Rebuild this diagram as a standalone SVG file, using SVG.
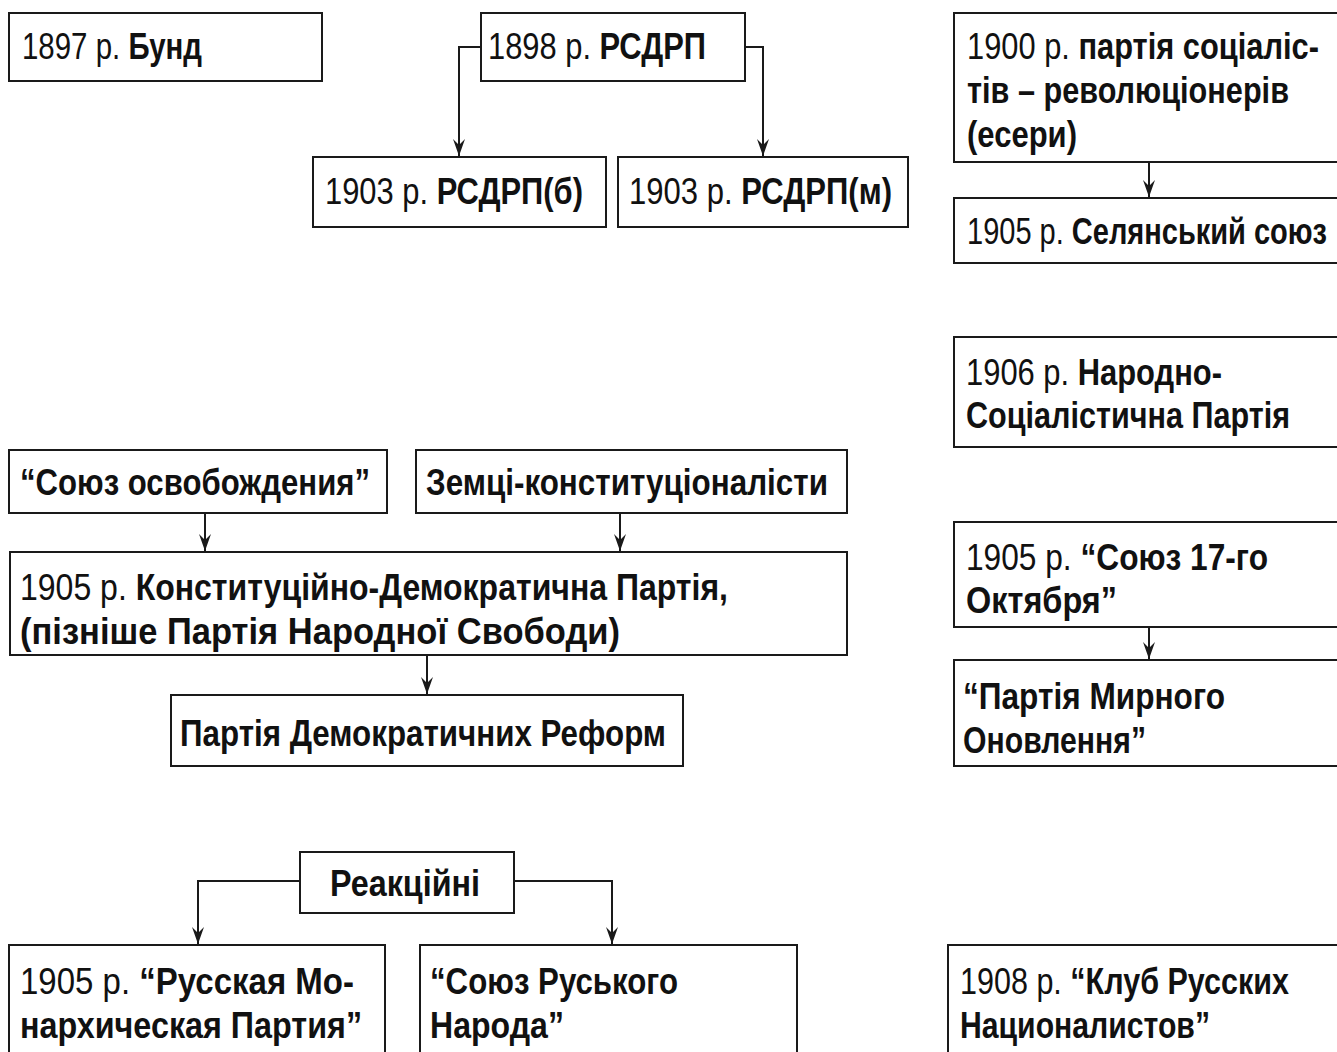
<svg xmlns="http://www.w3.org/2000/svg" width="1337" height="1052" viewBox="0 0 1337 1052">
<style>
.box{fill:#fff;stroke:#1a1a1a;stroke-width:2}
.c{fill:none;stroke:#1a1a1a;stroke-width:2}
text{font-family:"Liberation Sans",Arial,sans-serif;font-size:37px;fill:#111;font-weight:bold}
.r{font-weight:normal}
</style>
<defs>
<marker id="ah" markerUnits="userSpaceOnUse" markerWidth="20" markerHeight="14" viewBox="-18 -7 20 14" refX="0" refY="0" orient="auto">
<path d="M0,0 L-17,-6 L-11,0 L-17,6 Z" fill="#1a1a1a"/>
</marker>
</defs>
<rect width="1337" height="1052" fill="#fff"/>
<g id="connectors">
<path class="c" d="M481,47 H459 V156" marker-end="url(#ah)"/>
<path class="c" d="M745,47 H763 V156" marker-end="url(#ah)"/>
<path class="c" d="M1149,162 V197" marker-end="url(#ah)"/>
<path class="c" d="M1149,627 V659" marker-end="url(#ah)"/>
<path class="c" d="M205,513 V551" marker-end="url(#ah)"/>
<path class="c" d="M620,513 V551" marker-end="url(#ah)"/>
<path class="c" d="M427,655 V694" marker-end="url(#ah)"/>
<path class="c" d="M300,881 H198 V944" marker-end="url(#ah)"/>
<path class="c" d="M514,881 H612 V944" marker-end="url(#ah)"/>
</g>
<g id="bund">
<rect class="box" x="9" y="13" width="313" height="68"/>
<text transform="translate(22,59) scale(0.85,1)" textLength="211.8" lengthAdjust="spacingAndGlyphs"><tspan class="r">1897 р. </tspan>Бунд</text>
</g>
<g id="rsdrp">
<rect class="box" x="481" y="13" width="264" height="68"/>
<text transform="translate(488,59) scale(0.85,1)" textLength="256.5" lengthAdjust="spacingAndGlyphs"><tspan class="r">1898 р. </tspan>РСДРП</text>
</g>
<g id="rsdrp-b">
<rect class="box" x="313" y="157" width="293" height="70"/>
<text transform="translate(325,204) scale(0.85,1)" textLength="303.5" lengthAdjust="spacingAndGlyphs"><tspan class="r">1903 р. </tspan>РСДРП(б)</text>
</g>
<g id="rsdrp-m">
<rect class="box" x="618" y="157" width="290" height="70"/>
<text transform="translate(629,204) scale(0.85,1)" textLength="309.4" lengthAdjust="spacingAndGlyphs"><tspan class="r">1903 р. </tspan>РСДРП(м)</text>
</g>
<g id="esery">
<rect class="box" x="954" y="13" width="400" height="149"/>
<text transform="translate(967,59) scale(0.85,1)" textLength="414.1" lengthAdjust="spacingAndGlyphs"><tspan class="r">1900 р. </tspan>партія соціаліс-</text>
<text transform="translate(967,103) scale(0.85,1)" textLength="378.8" lengthAdjust="spacingAndGlyphs">тів – революціонерів</text>
<text transform="translate(967,147) scale(0.85,1)" textLength="129.4" lengthAdjust="spacingAndGlyphs">(есери)</text>
</g>
<g id="selyanskyi">
<rect class="box" x="954" y="198" width="400" height="65"/>
<text transform="translate(967,244) scale(0.8,1)" textLength="450" lengthAdjust="spacingAndGlyphs"><tspan class="r">1905 р. </tspan>Селянський союз</text>
</g>
<g id="narodno">
<rect class="box" x="954" y="337" width="400" height="110"/>
<text transform="translate(966,385) scale(0.85,1)" textLength="301.2" lengthAdjust="spacingAndGlyphs"><tspan class="r">1906 р. </tspan>Народно-</text>
<text transform="translate(966,428) scale(0.85,1)" textLength="381.2" lengthAdjust="spacingAndGlyphs">Соціалістична Партія</text>
</g>
<g id="oktyabr">
<rect class="box" x="954" y="522" width="400" height="105"/>
<text transform="translate(966,570) scale(0.85,1)" textLength="355.3" lengthAdjust="spacingAndGlyphs"><tspan class="r">1905 р. </tspan>“Союз 17-го</text>
<text transform="translate(966,613) scale(0.85,1)" textLength="177.6" lengthAdjust="spacingAndGlyphs">Октября”</text>
</g>
<g id="myrne">
<rect class="box" x="954" y="660" width="400" height="106"/>
<text transform="translate(963,709) scale(0.85,1)" textLength="308.2" lengthAdjust="spacingAndGlyphs">“Партія Мирного</text>
<text transform="translate(963,753) scale(0.85,1)" textLength="215.3" lengthAdjust="spacingAndGlyphs">Оновлення”</text>
</g>
<g id="klub">
<rect class="box" x="948" y="945" width="406" height="120"/>
<text transform="translate(960,994) scale(0.85,1)" textLength="387.1" lengthAdjust="spacingAndGlyphs"><tspan class="r">1908 р. </tspan>“Клуб Русских</text>
<text transform="translate(960,1038) scale(0.85,1)" textLength="294.1" lengthAdjust="spacingAndGlyphs">Националистов”</text>
</g>
<g id="osvobozhdenie">
<rect class="box" x="9" y="450" width="378" height="63"/>
<text transform="translate(20,495) scale(0.85,1)" textLength="411.8" lengthAdjust="spacingAndGlyphs">“Союз освобождения”</text>
</g>
<g id="zemtsi">
<rect class="box" x="416" y="450" width="431" height="63"/>
<text transform="translate(426,495) scale(0.85,1)" textLength="472.9" lengthAdjust="spacingAndGlyphs">Земці-конституціоналісти</text>
</g>
<g id="kadety">
<rect class="box" x="10" y="552" width="837" height="103"/>
<text transform="translate(20,600) scale(0.85,1)" textLength="832.9" lengthAdjust="spacingAndGlyphs"><tspan class="r">1905 р. </tspan>Конституційно-Демократична Партія,</text>
<text transform="translate(20,644) scale(0.85,1)" textLength="705.9" lengthAdjust="spacingAndGlyphs">(пізніше Партія Народної Свободи)</text>
</g>
<g id="reform">
<rect class="box" x="171" y="695" width="512" height="71"/>
<text transform="translate(180,746) scale(0.85,1)" textLength="571.8" lengthAdjust="spacingAndGlyphs">Партія Демократичних Реформ</text>
</g>
<g id="reaktsiini">
<rect class="box" x="300" y="852" width="214" height="61"/>
<text transform="translate(330,896) scale(0.85,1)" textLength="176.5" lengthAdjust="spacingAndGlyphs">Реакційні</text>
</g>
<g id="monarkh">
<rect class="box" x="9" y="945" width="376" height="120"/>
<text transform="translate(20,994) scale(0.85,1)" textLength="392.9" lengthAdjust="spacingAndGlyphs"><tspan class="r">1905 р. </tspan>“Русская Мо-</text>
<text transform="translate(20,1038) scale(0.85,1)" textLength="402.4" lengthAdjust="spacingAndGlyphs">нархическая Партия”</text>
</g>
<g id="soyuz-rus">
<rect class="box" x="420" y="945" width="377" height="120"/>
<text transform="translate(430,994) scale(0.85,1)" textLength="291.8" lengthAdjust="spacingAndGlyphs">“Союз Руського</text>
<text transform="translate(430,1038) scale(0.85,1)" textLength="157.6" lengthAdjust="spacingAndGlyphs">Народа”</text>
</g>
</svg>
